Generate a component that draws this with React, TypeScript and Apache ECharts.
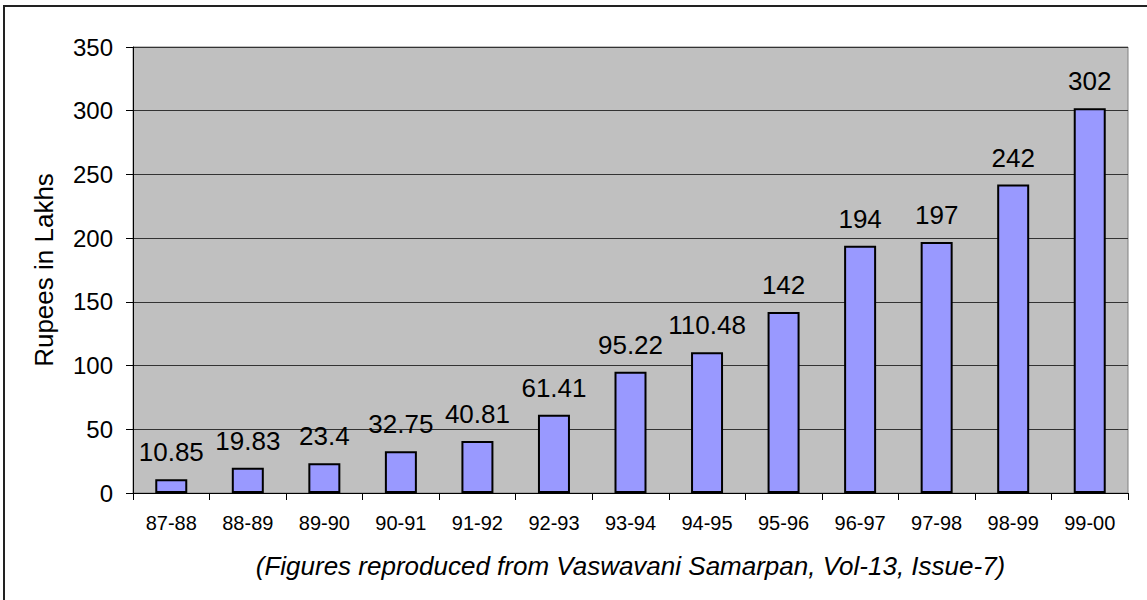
import React, { useEffect, useRef } from "react";
import * as echarts from "echarts";

const categories = ["87-88", "88-89", "89-90", "90-91", "91-92", "92-93", "93-94", "94-95", "95-96", "96-97", "97-98", "98-99", "99-00"];
const values = [10.85, 19.83, 23.4, 32.75, 40.81, 61.41, 95.22, 110.48, 142, 194, 197, 242, 302];
const yTitle = "Rupees in Lakhs";
const xTitle = "(Figures reproduced from Vaswavani Samarpan, Vol-13, Issue-7)";

const FONT = "Liberation Sans, Arial, sans-serif";

export default function App() {
  const ref = useRef<HTMLDivElement>(null);
  useEffect(() => {
    document.body.style.margin = "0";
    const chart = echarts.init(ref.current!, null, { renderer: "svg" });
    chart.setOption({
      animation: false,
      backgroundColor: "#fff",
      textStyle: { fontFamily: FONT },
      graphic: [
        {
          type: "rect",
          silent: true,
          shape: { x: 4, y: 6, width: 1300, height: 800 },
          style: { fill: "none", stroke: "#222", lineWidth: 2 },
        },
      ],
      grid: {
        left: 133,
        right: 19,
        top: 47,
        bottom: 107,
        show: true,
        backgroundColor: "#C0C0C0",
        borderColor: "#808080",
        borderWidth: 1,
      },
      xAxis: {
        type: "category",
        data: categories,
        boundaryGap: true,
        name: xTitle,
        nameLocation: "middle",
        nameGap: 60,
        nameTextStyle: { fontSize: 26, fontStyle: "italic", color: "#000", fontFamily: FONT },
        axisLine: { lineStyle: { color: "#000", width: 1 } },
        axisTick: { show: true, length: 7, alignWithLabel: false, lineStyle: { color: "#000" } },
        axisLabel: { fontSize: 20, color: "#000", margin: 20, fontFamily: FONT, interval: 0 },
        splitLine: { show: false },
      },
      yAxis: {
        type: "value",
        min: 0,
        max: 350,
        interval: 50,
        name: yTitle,
        nameLocation: "middle",
        nameGap: 76,
        nameRotate: 90,
        nameTextStyle: { fontSize: 26, color: "#000", fontFamily: FONT },
        axisLine: { show: true, lineStyle: { color: "#000", width: 1 } },
        axisTick: { show: true, length: 7, lineStyle: { color: "#000" } },
        axisLabel: { fontSize: 24, color: "#000", margin: 20, fontFamily: FONT },
        splitLine: { show: true, lineStyle: { color: "#333", width: 1 } },
      },
      series: [
        {
          type: "bar",
          data: values,
          barWidth: 32,
          itemStyle: { color: "#9999FF", borderColor: "#000", borderWidth: 2 },
          label: {
            show: true,
            position: "top",
            distance: 14,
            fontSize: 26,
            color: "#000",
            fontFamily: FONT,
          },
        },
      ],
    });
    return () => chart.dispose();
  }, []);
  return <div ref={ref} style={{ width: 1147, height: 600 }} />;
}
